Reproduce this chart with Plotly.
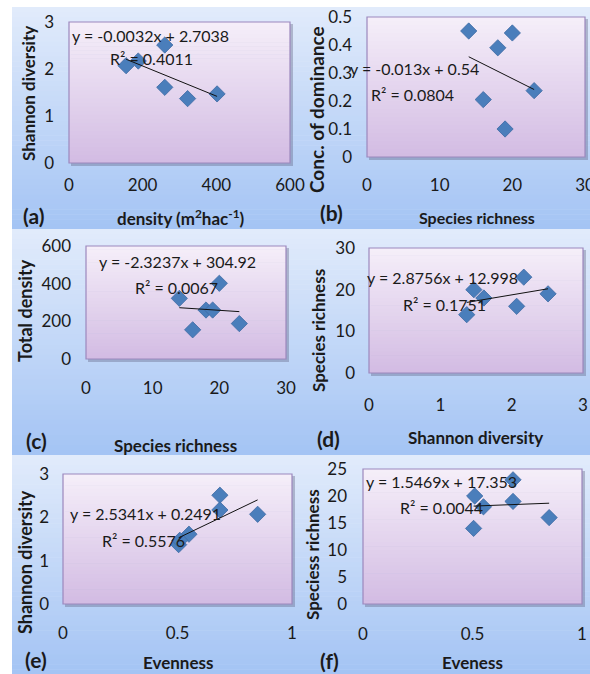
import plotly.graph_objects as go

W, H = 590, 674

# ---- data (one value per sampling site) ----
richness = [14, 16, 18, 19, 20, 23]
density = [322, 155, 260, 260, 402, 188]
shannon = [1.37, 2.07, 1.61, 2.51, 1.47, 2.17]
dominance = [0.45, 0.205, 0.39, 0.10, 0.443, 0.237]
evenness = [0.505, 0.85, 0.55, 0.685, 0.51, 0.685]

panel_labels = ["(a)", "(b)", "(c)", "(d)", "(e)", "(f)"]
x_titles = ["density (m<sup>2</sup>hac<sup>-1</sup>)", "Species richness", "Species richness",
            "Shannon diversity", "Evenness", "Eveness"]
y_titles = ["Shannon diversity", "Conc. of dominance", "Total density",
            "Species richness", "Shannon diversity", "Speciess richness"]
slopes = [-0.0032, -0.013, -2.3237, 2.8756, 2.5341, 1.5469]
intercepts = [2.7038, 0.54, 304.92, 12.998, 0.2491, 17.353]
eq_texts = ["y = -0.0032x + 2.7038", "y = -0.013x + 0.54", "y = -2.3237x + 304.92",
            "y = 2.8756x + 12.998", "y = 2.5341x + 0.2491", "y = 1.5469x + 17.353"]
r2_texts = ["R² = 0.4011", "R² = 0.0804", "R² = 0.0067", "R² = 0.1751", "R² = 0.5576", "R² = 0.0044"]
x_ticks = [(0, 600, 200), (0, 30, 10), (0, 30, 10), (0, 3, 1), (0, 1, 0.5), (0, 1, 0.5)]
y_ticks = [(0, 3, 1), (0, 0.5, 0.1), (0, 600, 200), (0, 30, 10), (0, 3, 1), (0, 25, 5)]

pairs = [(density, shannon), (richness, dominance), (richness, density),
         (shannon, richness), (evenness, shannon), (evenness, richness)]

# ---- layout (pixels) ----
plot_boxes = [(69, 22, 290, 163), (367, 17, 585, 157), (86, 246, 286, 359),
              (369, 248, 583, 373), (63, 474, 292, 604), (363, 469, 582, 604)]
panel_boxes = [(12, 7, 300, 229), (300, 7, 590, 229), (12, 229, 300, 455),
               (300, 229, 590, 455), (12, 455, 300, 674), (300, 455, 590, 674)]
x_standoff = [10, 16, 17, 20, 17, 18]
y_standoff = [14, 14, 14, 13, 13, 15]
xt_pos = [(181, 218), (477, 218), (175, 445), (475, 437), (178, 662), (472, 662)]
yt_pos = [(28, 94), (317, 110), (25, 311), (318, 331), (25, 562), (312, 555)]
yt_size = [17, 19, 18, 17, 18, 17]
xt_size = [17, 16, 17, 17, 17, 17]
lab_pos = [(33, 215), (331, 212), (36, 440), (328, 438), (36, 659), (329, 660)]
eq_pos = [(70, 36), (348, 68), (97, 261), (365, 277), (68, 513), (364, 481)]
r2_pos = [(108, 59), (369, 94), (133, 287), (401, 304), (100, 540), (398, 507)]

FONT = "Lato"
TXT = "#1a1a1a"


def px(x):
    return x / W


def py(y):
    return 1 - y / H


def mix(c1, c2, t):
    return "rgb(%d,%d,%d)" % tuple(round(a + (b - a) * t) for a, b in zip(c1, c2))


shapes = []


def gradient(box, top, bot, n):
    x0, y0, x1, y1 = box
    h = (y1 - y0) / n
    for i in range(n):
        c = mix(top, bot, i / (n - 1))
        shapes.append(dict(type="rect", xref="paper", yref="paper", layer="below",
                           x0=px(x0), x1=px(x1), y0=py(y0 + i * h), y1=py(min(y1, y0 + (i + 1) * h + 0.6)),
                           fillcolor=c, line=dict(width=0)))


fig = go.Figure()
annotations = []

for i in range(6):
    gradient(panel_boxes[i], (225, 235, 251), (164, 196, 244), 45)

for i in range(6):
    x0, y0, x1, y1 = plot_boxes[i]
    shapes.append(dict(type="rect", xref="paper", yref="paper", layer="below",
                       x0=px(x0 + 2), x1=px(x1 + 3), y0=py(y0 + 2), y1=py(y1 + 3),
                       fillcolor="rgba(90,90,120,0.35)", line=dict(width=0)))
    gradient(plot_boxes[i], (245, 238, 249), (211, 188, 227), 35)
    shapes.append(dict(type="rect", xref="paper", yref="paper", layer="below",
                       x0=px(x0), x1=px(x1), y0=py(y0), y1=py(y1),
                       fillcolor="rgba(0,0,0,0)", line=dict(color="#9c88bd", width=1.2)))

for i in range(6):
    k = i + 1
    xs, ys = pairs[i]
    xa = "x" if k == 1 else "x%d" % k
    ya = "y" if k == 1 else "y%d" % k
    fig.add_trace(go.Scatter(x=xs, y=ys, mode="markers", xaxis=xa, yaxis=ya, showlegend=False,
                             marker=dict(symbol="diamond", size=12.5, color="#4a7ebb",
                                         line=dict(color="#3d6aa3", width=0.8))))
    lx = [min(xs), max(xs)]
    ly = [slopes[i] * v + intercepts[i] for v in lx]
    fig.add_trace(go.Scatter(x=lx, y=ly, mode="lines", xaxis=xa, yaxis=ya, showlegend=False,
                             line=dict(color="#111111", width=1)))

    x0, y0, x1, y1 = plot_boxes[i]
    a0, a1, ad = x_ticks[i]
    b0, b1, bd = y_ticks[i]
    xkey = "xaxis" if k == 1 else "xaxis%d" % k
    ykey = "yaxis" if k == 1 else "yaxis%d" % k
    fig.update_layout(**{
        xkey: dict(domain=[px(x0), px(x1)], range=[a0, a1], dtick=ad, tick0=0, anchor=ya,
                   showgrid=False, zeroline=False, showline=False, ticks="", automargin=False,
                   ticklabeloverflow="allow",
                   ticklabelstandoff=x_standoff[i], tickfont=dict(family=FONT, size=17, color=TXT)),
        ykey: dict(domain=[py(y1), py(y0)], range=[b0, b1], dtick=bd, tick0=0, anchor=xa,
                   showgrid=False, zeroline=False, showline=False, ticks="", automargin=False,
                   ticklabeloverflow="allow",
                   ticklabelstandoff=y_standoff[i], tickfont=dict(family=FONT, size=17, color=TXT)),
    })

    annotations.append(dict(text="<b>%s</b>" % x_titles[i], x=px(xt_pos[i][0]), y=py(xt_pos[i][1]),
                            xref="paper", yref="paper", showarrow=False, xanchor="center", yanchor="middle",
                            font=dict(family=FONT, size=xt_size[i], color=TXT)))
    annotations.append(dict(text="<b>%s</b>" % y_titles[i], x=px(yt_pos[i][0]), y=py(yt_pos[i][1]),
                            xref="paper", yref="paper", showarrow=False, xanchor="center", yanchor="middle",
                            textangle=-90, font=dict(family=FONT, size=yt_size[i], color=TXT)))
    annotations.append(dict(text="<b>%s</b>" % panel_labels[i], x=px(lab_pos[i][0]), y=py(lab_pos[i][1]),
                            xref="paper", yref="paper", showarrow=False, xanchor="center", yanchor="middle",
                            font=dict(family=FONT, size=21, color=TXT)))
    annotations.append(dict(text=eq_texts[i], x=px(eq_pos[i][0]), y=py(eq_pos[i][1]), xref="paper", yref="paper",
                            showarrow=False, xanchor="left", yanchor="middle",
                            font=dict(family=FONT, size=16, color=TXT)))
    annotations.append(dict(text=r2_texts[i], x=px(r2_pos[i][0]), y=py(r2_pos[i][1]), xref="paper", yref="paper",
                            showarrow=False, xanchor="left", yanchor="middle",
                            font=dict(family=FONT, size=16, color=TXT)))

fig.update_layout(width=W, height=H, margin=dict(l=0, r=0, t=0, b=0, autoexpand=False),
                  paper_bgcolor="white", plot_bgcolor="rgba(0,0,0,0)",
                  shapes=shapes, annotations=annotations)

fig.write_html("out.html", config={"displayModeBar": False},
               post_script="document.body.style.margin='0px';document.body.style.overflow='hidden';")
